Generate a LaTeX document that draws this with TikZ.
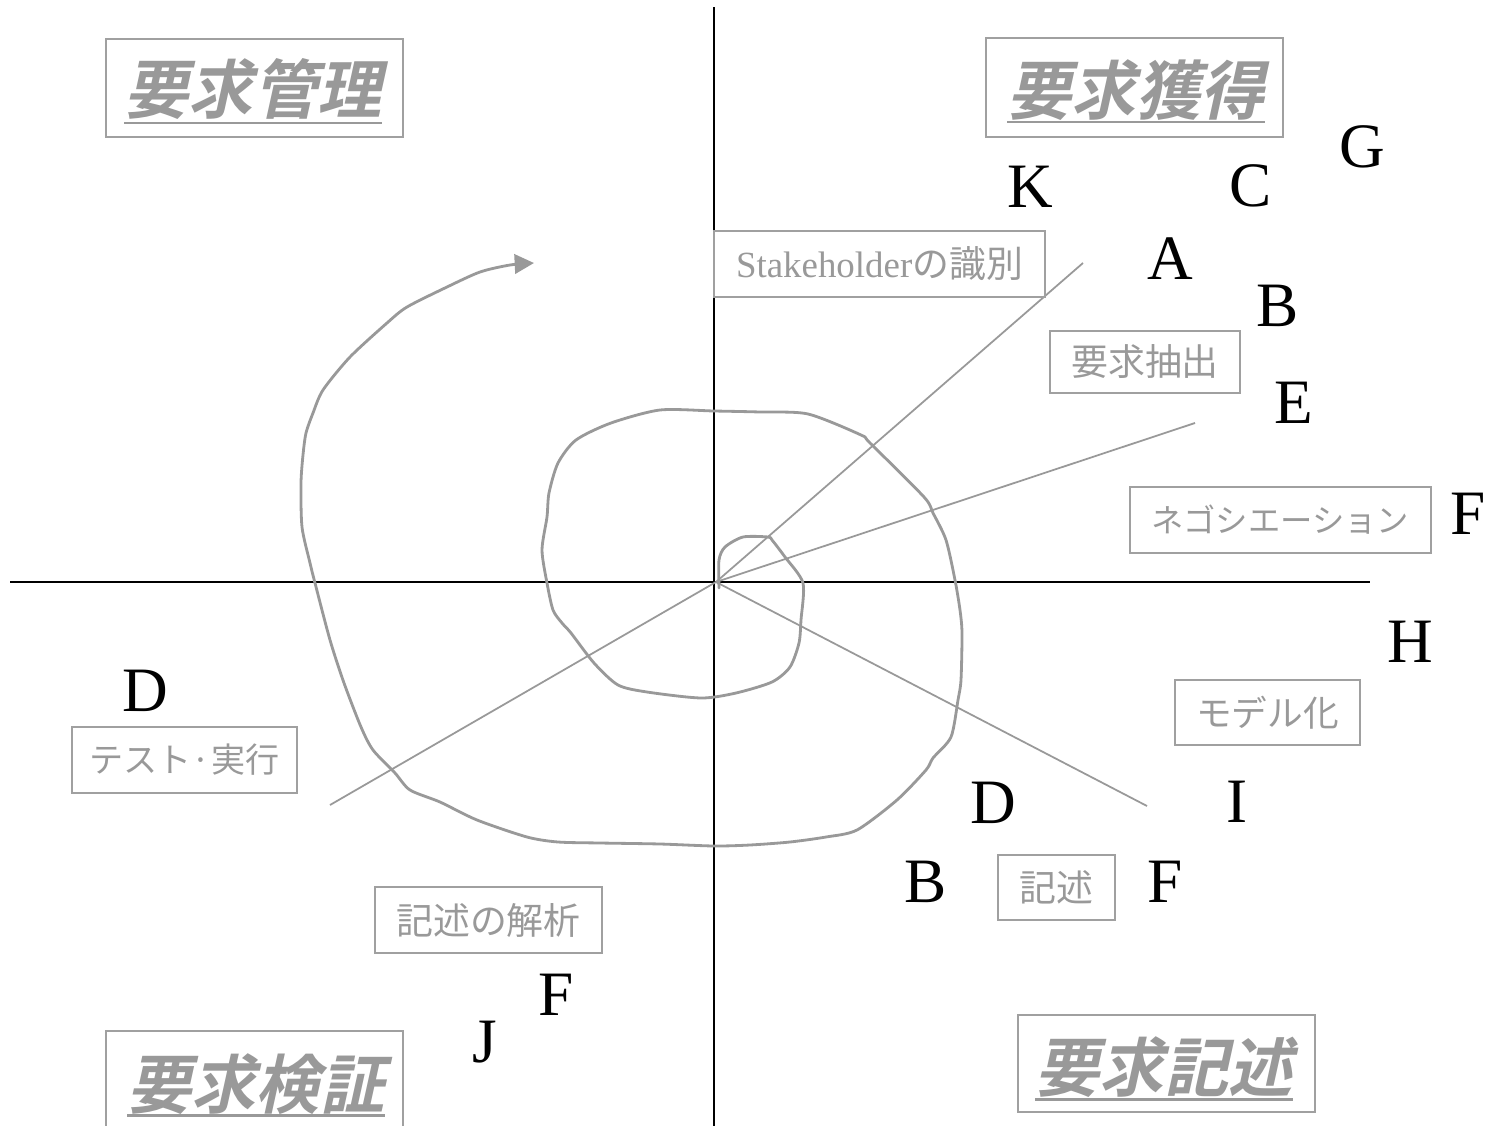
\documentclass[tikz,border=0pt]{standalone}
\usepackage{fontspec}
\setmainfont{Liberation Serif}
\newfontfamily\jp{Noto Sans CJK JP}
\newfontfamily\jptitle[FakeSlant=0.22]{Noto Sans CJK JP Bold}
\usetikzlibrary{arrows.meta}
\definecolor{txtc}{HTML}{999999}
\definecolor{boxc}{HTML}{A0A0A0}
\definecolor{rayc}{HTML}{999999}
\definecolor{spc}{HTML}{999999}
\newcommand\lsize[1]{\fontsize{#1}{#1}\selectfont}
\tikzset{
  ax/.style={draw=black, line width=1.1pt},
  ray/.style={draw=rayc, line width=1pt},
  spiral/.style={draw=spc, line width=1.6pt, line join=round, line cap=round},
  lbl/.style={draw=boxc, line width=1pt, font=\jp\lsize{21}, text=txtc, inner sep=0pt},
  letter/.style={font=\lsize{36}, inner sep=0pt, text=black},
  ttl/.style={font=\jptitle\lsize{36.5}, text=txtc, inner sep=0pt, anchor=base},
  tbox/.style={draw=boxc, line width=1pt, minimum width=5.94cm, inner sep=0pt},
  ul/.style={draw=txtc, line width=1.7pt}
}
\begin{document}
\begin{tikzpicture}[x=0.02cm, y=-0.02cm]
\useasboundingbox (0,0) rectangle (1492,1126);
\clip (0,0) rectangle (1492,1126);
\fill[white] (0,0) rectangle (1492,1126);

% axes
\coordinate (vt) at (714,7);
\coordinate (vb) at (714,1130);
\coordinate (hl) at (10,582);
\coordinate (hr) at (1370,582);
\draw[ax] (vt) -- (vb);
\draw[ax] (hl) -- (hr);

% rays
\coordinate (O) at (716,582);
\coordinate (r1) at (1083,263);
\coordinate (r2) at (1195,423);
\coordinate (r3) at (330,805);
\coordinate (r4) at (1147,806);
\draw[ray] (O) -- (r1);
\draw[ray] (O) -- (r2);
\draw[ray] (O) -- (r3);
\draw[ray] (O) -- (r4);

% spiral
\draw[spiral, -{Triangle[length=11pt,width=11pt]}] plot[smooth, tension=0.45] coordinates {
(719,588) (719,560) (725,547) (743,537) (768,537) (772,540) (785,557) (803,583)
(801,620) (799,643) (790,667) (772,682) (736,693) (701,698) (647,692) (618,685)
(594,663) (571,633) (562,623) (553,610) (547,583) (542,550) (547,517) (549,493)
(558,463) (576,440) (611,423) (660,410) (714,411) (760,412) (808,414) (861,435)
(870,443) (924,497) (933,513) (946,540) (955,580) (960,610) (962,633) (961,680)
(958,700) (951,737) (933,758) (926,770) (897,800) (857,830) (826,837) (790,842)
(750,845) (714,846) (660,844) (600,843) (558,842) (527,837) (477,820) (440,802)
(410,790) (395,773) (373,750) (361,727) (344,683) (330,640) (315,583) (310,563)
(302,527) (301,483) (303,455) (306,433) (313,413) (323,390) (350,357) (387,323)
(407,307) (447,287) (480,272) (510,265) (534,263)};

% title boxes
\node[tbox, minimum height=1.96cm] (b1) at (254.5,88) {};
\node[tbox, minimum height=1.98cm] (b2) at (1134.5,87.5) {};
\node[tbox, minimum height=2.38cm] (b3) at (254.5,1090.5) {};
\node[tbox, minimum height=1.94cm] (b4) at (1166.5,1063.5) {};
\node[ttl] (t1) at (253,113) {要求管理};
\node[ttl] (t2) at (1136,114) {要求獲得};
\node[ttl] (t3) at (256,1108) {要求検証};
\node[ttl] (t4) at (1164,1091) {要求記述};
\draw[ul] (t1.west |- 0,123) -- (t1.east |- 0,123);
\draw[ul] (t2.west |- 0,122) -- (t2.east |- 0,122);
\draw[ul] (t3.west |- 0,1115) -- (t3.east |- 0,1115);
\draw[ul] (t4.west |- 0,1099) -- (t4.east |- 0,1099);

% label boxes
\node[lbl, minimum width=6.62cm, minimum height=1.32cm] (s1) at (879.5,264) {{\rmfamily Stakeholder}の識別};
\node[lbl, minimum width=3.8cm, minimum height=1.24cm] (s2) at (1145,362) {要求抽出};
\node[lbl, font=\jp\lsize{18.4}, minimum width=6.02cm, minimum height=1.32cm] (s3) at (1280.5,520) {ネゴシエーション};
\node[lbl, font=\jp\lsize{20.3}, minimum width=3.7cm, minimum height=1.3cm] (s4) at (1267.5,712.5) {モデル化};
\node[lbl, font=\jp\lsize{19.4}, minimum width=4.5cm, minimum height=1.32cm] (s5) at (184.5,760) {テスト·実行};
\node[lbl, minimum width=4.54cm, minimum height=1.32cm] (s6) at (488.5,920) {記述の解析};
\node[lbl, minimum width=2.34cm, minimum height=1.3cm] (s7) at (1056.5,887.5) {記述};

% letters
\node[letter] (lK) at (1030,187) {K};
\node[letter] (lC) at (1251,186) {C};
\node[letter] (lG) at (1362,147) {G};
\node[letter] (lA) at (1170,259) {A};
\node[letter] (lB1) at (1278,306) {B};
\node[letter] (lE) at (1294,403) {E};
\node[letter] (lF1) at (1468,514) {F};
\node[letter] (lH) at (1410,642) {H};
\node[letter] (lI) at (1237,802) {I};
\node[letter] (lD1) at (993,803) {D};
\node[letter] (lB2) at (926,882) {B};
\node[letter] (lF2) at (1165,882) {F};
\node[letter] (lD2) at (145,691) {D};
\node[letter] (lF3) at (556,995) {F};
\node[letter] (lJ) at (485,1042) {J};
\end{tikzpicture}
\end{document}
